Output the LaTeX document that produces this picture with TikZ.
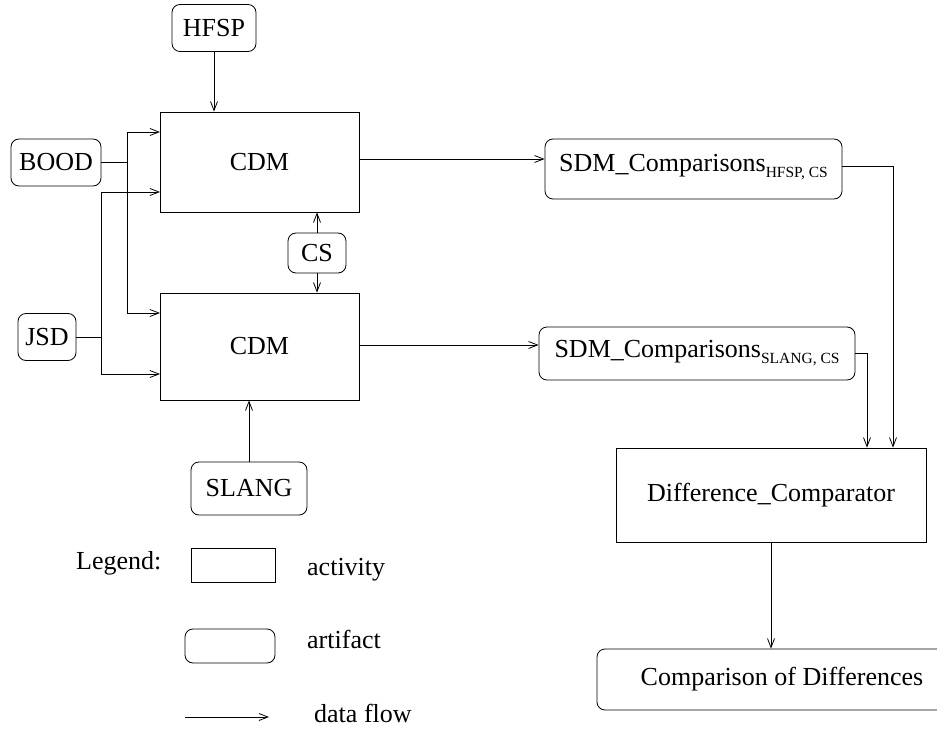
\documentclass[tikz,border=0pt]{standalone}
\usepackage{fontspec}
\setmainfont{Liberation Serif}
\newfontfamily\diagfont{Liberation Serif}
\usetikzlibrary{arrows.meta}
\newcommand{\subtxt}[1]{\raisebox{-6pt}{\fontsize{15.5}{18}\selectfont #1}}
\tikzset{
  activity/.style={draw, line width=0.8pt, inner sep=0pt},
  artifact/.style={draw, line width=0.8pt, rounded corners=8pt, inner sep=0pt},
  arr/.style={line width=0.8pt, -{Straight Barb[length=9pt,width=7pt]}},
  flow/.style={line width=0.8pt},
  txt/.style={inner sep=0pt, anchor=base west}
}
\begin{document}
\begin{tikzpicture}[x=1pt, y=-1pt, font=\diagfont\fontsize{26}{30}\selectfont]
\useasboundingbox (0,0) rectangle (937,730);
% activities
\node[activity, minimum width=199pt, minimum height=100pt] (CDM1) at (259.5,162) {CDM};
\node[activity, minimum width=199pt, minimum height=107pt] (CDM2) at (259.5,346.5) {CDM};
\node[activity, minimum width=310pt, minimum height=94pt] (Diff) at (771,495) {Difference\_Comparator};
% artifacts
\node[artifact, minimum width=84pt, minimum height=47pt] (HFSP) at (214,28) {HFSP};
\node[artifact, minimum width=90pt, minimum height=47pt] (BOOD) at (56,162.5) {BOOD};
\node[artifact, minimum width=58pt, minimum height=40pt] (CS) at (317,253) {CS};
\node[artifact, minimum width=58pt, minimum height=47pt] (JSD) at (47,337) {JSD};
\node[artifact, minimum width=116pt, minimum height=53pt] (SLANG) at (249,488.5) {SLANG};
\node[artifact, minimum width=297pt, minimum height=60pt, text depth=12pt] (SDM1) at (693.5,169) {SDM\_Comparisons\subtxt{HFSP, CS}};
\node[artifact, minimum width=316pt, minimum height=53pt, text depth=10pt] (SDM2) at (697,353.5) {SDM\_Comparisons\subtxt{SLANG, CS}};
\node[artifact, minimum width=370pt, minimum height=61pt] (Comp) at (782,679.5) {Comparison of Differences};
% junctions and taps
\coordinate (bj) at (127,162.5);
\coordinate (jj) at (101,337);
\coordinate (t1) at (160,132);
\coordinate (t2) at (160,313);
\coordinate (t3) at (160,192);
\coordinate (t4) at (160,374);
% connectors
\draw[arr] (HFSP.south) -- (HFSP.south |- CDM1.north);
\draw[flow] (BOOD.east) -- (bj);
\draw[arr] (bj) |- (t1);
\draw[arr] (bj) |- (t2);
\draw[flow] (JSD.east) -- (jj);
\draw[arr] (jj) |- (t3);
\draw[arr] (jj) |- (t4);
\draw[arr] (CS.north) -- (CS.north |- CDM1.south);
\draw[arr] (CS.south) -- (CS.south |- CDM2.north);
\draw[arr] (SLANG.north) -- (SLANG.north |- CDM2.south);
\draw[arr] ([yshift=3pt]CDM1.east) -- ([yshift=3pt]CDM1.east -| SDM1.west);
\draw[arr] ([yshift=1.5pt]CDM2.east) -- ([yshift=1.5pt]CDM2.east -| SDM2.west);
\draw[arr] ([yshift=3pt]SDM1.east) -| ([xshift=122pt]Diff.north);
\draw[arr] (SDM2.east) -| ([xshift=96pt]Diff.north);
\draw[arr] (Diff.south) -- (Diff.south |- Comp.north);
% legend
\node[txt] (leg) at (76,569) {Legend:};
\node[activity, minimum width=84pt, minimum height=34pt] (legact) at (233,565) {};
\node[txt] (legacttxt) at (307,575) {activity};
\node[artifact, minimum width=90pt, minimum height=34pt] (legart) at (230,646) {};
\node[txt] (legarttxt) at (307,648) {artifact};
\coordinate (la) at (185,717);
\coordinate (lb) at (269,717);
\draw[arr] (la) -- (lb);
\node[txt] (legflowtxt) at (314,722) {data flow};
\end{tikzpicture}
\end{document}
